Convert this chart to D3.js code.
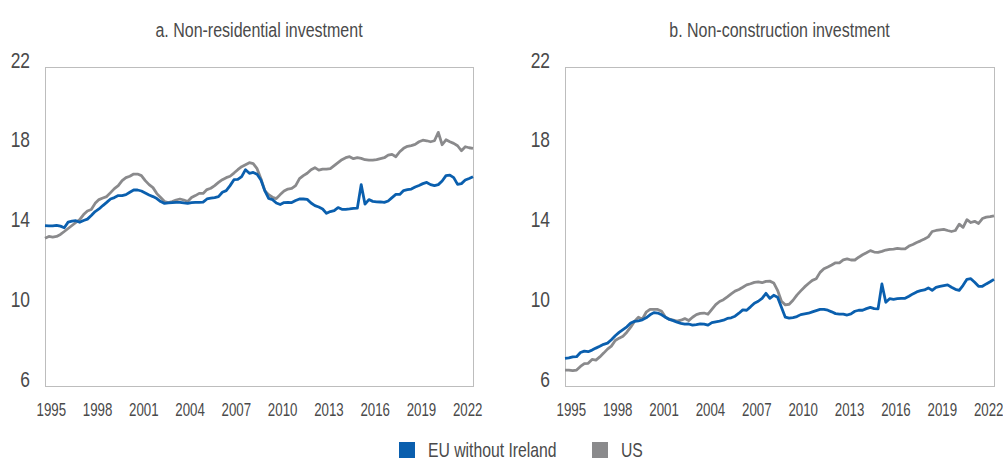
<!DOCTYPE html>
<html><head><meta charset="utf-8">
<script src="https://cdn.jsdelivr.net/npm/d3@7"></script>
<style>
html,body{margin:0;padding:0;background:#fff;}
svg{display:block;}
text{font-family:"Liberation Sans",Arial,sans-serif;fill:#4a4a4a;}
</style></head><body>
<svg id="chart" width="1003" height="462"></svg>
<script>
// ---- data (quarterly, 1995Q1 .. 2022Q4) ----
const startYear = 1995;
const endYear = 2022;
const tickYears = [1995, 1998, 2001, 2004, 2007, 2010, 2013, 2016, 2019, 2022];
const yTicks = [6, 10, 14, 18, 22];
const seriesNames = ["EU without Ireland", "US"];
const panelTitles = ["a. Non-residential investment", "b. Non-construction investment"];

const euNonRes = [14.04,14.03,14.03,14.06,14.02,13.94,14.22,14.27,14.29,14.21,
14.30,14.37,14.55,14.75,14.88,15.05,15.21,15.38,15.45,15.55,
15.55,15.60,15.72,15.83,15.83,15.78,15.68,15.58,15.50,15.40,
15.25,15.16,15.18,15.20,15.21,15.21,15.18,15.16,15.20,15.21,
15.21,15.22,15.38,15.42,15.45,15.50,15.72,15.80,16.05,16.35,
16.36,16.50,16.85,16.67,16.71,16.62,16.33,15.80,15.41,15.35,
15.18,15.10,15.20,15.21,15.20,15.30,15.38,15.38,15.36,15.18,
15.05,14.98,14.88,14.66,14.75,14.80,14.95,14.86,14.86,14.88,
14.91,14.92,16.10,15.12,15.35,15.26,15.24,15.23,15.21,15.28,
15.45,15.61,15.61,15.80,15.85,15.88,15.98,16.06,16.15,16.21,
16.10,16.05,16.10,16.28,16.55,16.58,16.45,16.11,16.15,16.33,
16.41,16.50];

const usNonRes = [13.41,13.50,13.47,13.50,13.60,13.75,13.90,14.05,14.20,14.35,
14.60,14.78,14.85,15.16,15.35,15.43,15.50,15.70,15.90,16.05,
16.30,16.45,16.52,16.63,16.63,16.55,16.30,16.10,15.95,15.65,
15.45,15.25,15.20,15.25,15.33,15.38,15.33,15.25,15.45,15.55,
15.66,15.66,15.85,15.92,16.05,16.21,16.35,16.45,16.52,16.68,
16.85,17.00,17.10,17.20,17.15,16.90,16.40,15.80,15.60,15.47,
15.40,15.60,15.78,15.88,15.91,16.05,16.40,16.55,16.67,16.85,
16.95,16.83,16.88,16.88,16.90,17.05,17.20,17.35,17.45,17.50,
17.40,17.45,17.42,17.35,17.33,17.33,17.35,17.40,17.45,17.58,
17.62,17.50,17.75,17.92,18.02,18.06,18.12,18.25,18.33,18.30,
18.25,18.30,18.72,18.10,18.35,18.25,18.17,18.05,17.80,18.00,
17.95,17.92];

const euNonCon = [7.39,7.41,7.46,7.47,7.68,7.75,7.72,7.80,7.90,7.99,
8.09,8.15,8.32,8.52,8.69,8.83,8.97,9.16,9.24,9.27,
9.32,9.42,9.57,9.68,9.66,9.57,9.45,9.34,9.28,9.20,
9.14,9.10,9.11,9.05,9.08,9.12,9.10,9.05,9.18,9.22,
9.25,9.30,9.39,9.42,9.50,9.65,9.82,9.80,9.97,10.15,
10.25,10.40,10.65,10.40,10.55,10.45,9.95,9.45,9.40,9.43,
9.48,9.58,9.62,9.65,9.72,9.78,9.84,9.84,9.80,9.72,
9.63,9.61,9.60,9.56,9.62,9.75,9.80,9.80,9.88,9.94,
9.88,9.87,11.12,10.20,10.38,10.35,10.38,10.40,10.40,10.50,
10.62,10.72,10.78,10.82,10.92,10.80,10.95,11.00,11.04,11.07,
10.95,10.85,10.80,11.05,11.35,11.38,11.20,11.00,11.00,11.12,
11.23,11.35];

const usNonCon = [6.80,6.80,6.77,6.80,6.98,7.12,7.14,7.33,7.30,7.46,
7.65,7.85,8.00,8.28,8.40,8.50,8.70,8.95,9.25,9.45,
9.35,9.70,9.84,9.84,9.84,9.75,9.45,9.35,9.31,9.25,
9.30,9.38,9.28,9.45,9.58,9.64,9.66,9.60,9.84,10.08,
10.24,10.33,10.47,10.62,10.76,10.84,10.95,11.07,11.13,11.20,
11.22,11.18,11.25,11.26,11.17,10.80,10.25,10.07,10.10,10.30,
10.56,10.77,10.97,11.14,11.30,11.38,11.70,11.88,11.97,12.07,
12.18,12.18,12.33,12.38,12.32,12.32,12.46,12.58,12.68,12.79,
12.72,12.70,12.75,12.82,12.85,12.87,12.90,12.88,12.88,13.02,
13.10,13.20,13.28,13.37,13.48,13.75,13.80,13.83,13.86,13.80,
13.75,13.80,14.12,13.96,14.34,14.20,14.26,14.15,14.40,14.47,
14.49,14.53];

// ---- drawing ----
const colors = {eu: "#0a5fae", us: "#8a8a8c"};
const svg = d3.select("#chart");
const nQ = (endYear - startYear + 1) * 4;

const panels = [
  {x0: 45, x1: 473, title: panelTitles[0], eu: euNonRes, us: usNonRes},
  {x0: 565, x1: 994, title: panelTitles[1], eu: euNonCon, us: usNonCon}
];
const plotTop = 67, plotBottom = 386;

const y = d3.scaleLinear().domain([6, 22]).range([plotBottom, plotTop]);

panels.forEach(p => {
  const x = d3.scaleLinear().domain([0, nQ - 1]).range([p.x0, p.x1]);
  const g = svg.append("g");

  // dotted frame
  g.append("rect")
    .attr("x", p.x0 + 0.5).attr("y", plotTop + 0.5)
    .attr("width", p.x1 - p.x0).attr("height", plotBottom - plotTop)
    .attr("fill", "none").attr("stroke", "#7a7a7a")
    .attr("stroke-width", 1).attr("stroke-dasharray", "1,1");

  // title (condensed look)
  g.append("text")
    .attr("transform", `translate(${(p.x0 + p.x1) / 2},37) scale(0.8,1)`)
    .attr("text-anchor", "middle")
    .style("font-size", "20px")
    .text(p.title);

  // y axis labels
  const yAxis = d3.axisLeft(y).tickValues(yTicks).tickSize(0).tickPadding(0);
  const ya = g.append("g").attr("transform", `translate(${p.x0 - 15},0)`).call(yAxis);
  ya.select(".domain").remove();
  ya.selectAll("text").attr("dy", "0").attr("x", 0)
    .attr("transform", "scale(0.79,1)")
    .style("font-size", "22px").attr("fill", null).attr("font-family", null);

  // x axis labels (centred on each year)
  const xAxis = d3.axisBottom(x)
    .tickValues(tickYears.map(yr => (yr - startYear) * 4 + 1.5))
    .tickFormat((d, i) => tickYears[i])
    .tickSize(0).tickPadding(0);
  const xa = g.append("g").attr("transform", `translate(0,${plotBottom + 30})`).call(xAxis);
  xa.select(".domain").remove();
  xa.selectAll("text").attr("dy", "0").attr("y", 0)
    .attr("transform", "scale(0.7,1)")
    .style("font-size", "19px").attr("fill", null).attr("font-family", null);

  const line = d3.line().x((d, i) => x(i)).y(d => y(d));
  g.append("path").datum(p.us).attr("d", line)
    .attr("fill", "none").attr("stroke", colors.us).attr("stroke-width", 2.8)
    .attr("stroke-linejoin", "round");
  g.append("path").datum(p.eu).attr("d", line)
    .attr("fill", "none").attr("stroke", colors.eu).attr("stroke-width", 2.8)
    .attr("stroke-linejoin", "round");
});

// legend
const legend = [
  {name: seriesNames[0], color: colors.eu, x: 399},
  {name: seriesNames[1], color: colors.us, x: 592}
];
legend.forEach(l => {
  svg.append("rect").attr("x", l.x).attr("y", 442).attr("width", 16).attr("height", 16)
    .attr("fill", l.color);
  svg.append("text")
    .attr("transform", `translate(${l.x + 29},457) scale(0.75,1)`)
    .style("font-size", "21px").text(l.name);
});
</script>
</body></html>
